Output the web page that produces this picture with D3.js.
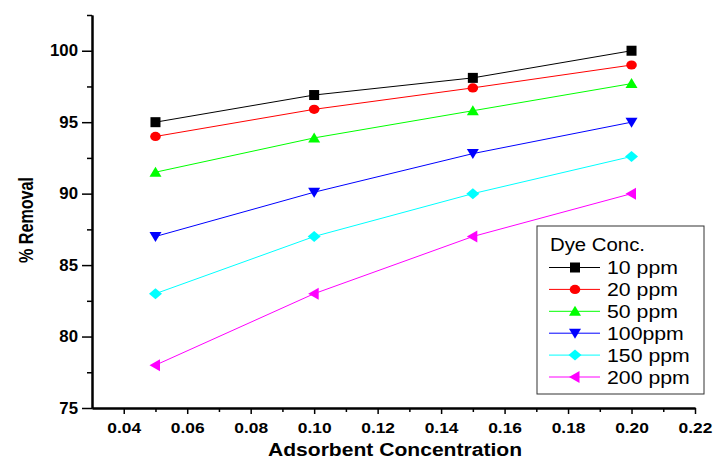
<!DOCTYPE html>
<html>
<head>
<meta charset="utf-8">
<script src="https://cdn.jsdelivr.net/npm/d3@7"></script>
<style>
  body { margin: 0; background: #fff; }
  text { font-family: "Liberation Sans", Arial, sans-serif; }
</style>
</head>
<body>
<div id="my_viz"></div>
<script>
var width = 715,
    height = 461;

// data
var doses = [0.05, 0.10, 0.15, 0.20];
var seriesNames = ["10 ppm", "20 ppm", "50 ppm", "100ppm", "150 ppm", "200 ppm"];
var removal10 = [95.0, 96.9, 98.1, 100.0];
var removal20 = [94.0, 95.9, 97.4, 99.0];
var removal50 = [91.5, 93.9, 95.8, 97.7];
var removal100 = [87.0, 90.1, 92.8, 95.0];
var removal150 = [83.0, 87.0, 90.0, 92.6];
var removal200 = [78.0, 83.0, 87.0, 90.0];
var xTicks = [0.04, 0.06, 0.08, 0.10, 0.12, 0.14, 0.16, 0.18, 0.20, 0.22];
var yTicks = [75, 80, 85, 90, 95, 100];

var allSeries = [removal10, removal20, removal50, removal100, removal150, removal200];
var colors = ["#000000", "#ff0000", "#00ff00", "#0000ff", "#00ffff", "#ff00ff"];
var shapes = ["square", "circle", "up", "down", "diamond", "left"];

var svg = d3.select("#my_viz")
    .append("svg")
    .attr("width", width)
    .attr("height", height)
    .style("background", "white");

var x = d3.scaleLinear().domain([0.03, 0.22]).range([92, 695]);
var y = d3.scaleLinear().domain([75, 102.5]).range([408, 15]);

// axes
var xAxis = svg.append("g").attr("transform", "translate(0,408)")
    .call(d3.axisBottom(x).tickValues(xTicks).tickFormat(d3.format(".2f")).tickSize(6).tickSizeOuter(0));
var xMinor = svg.append("g").attr("transform", "translate(0,408)")
    .call(d3.axisBottom(x).tickValues(d3.range(0.05, 0.215, 0.02)).tickFormat("").tickSize(4).tickSizeOuter(0));
var yAxis = svg.append("g").attr("transform", "translate(92,0)")
    .call(d3.axisLeft(y).tickValues(yTicks).tickSize(10).tickSizeOuter(0).tickPadding(4));
var yMinor = svg.append("g").attr("transform", "translate(92,0)")
    .call(d3.axisLeft(y).tickValues([77.5, 82.5, 87.5, 92.5, 97.5, 102.5]).tickFormat("").tickSize(5).tickSizeOuter(0));

svg.selectAll(".domain").attr("stroke", "#000").attr("stroke-width", 2);
svg.selectAll(".tick line").attr("stroke", "#000").attr("stroke-width", 1.5);
xAxis.selectAll("text").attr("font-size", 15.5).attr("font-weight", "bold")
    .attr("font-family", "Liberation Sans, Arial").attr("fill", "#000")
    .attr("y", 10).attr("dy", "0.95em")
    .attr("transform", "scale(1.12,1)");
yAxis.selectAll("text").attr("font-size", 16).attr("font-weight", "bold")
    .attr("font-family", "Liberation Sans, Arial").attr("fill", "#000")
    .attr("x", -14 / 1.05)
    .attr("transform", "scale(1.05,1)");

svg.append("text")
    .attr("transform", "translate(395,456) scale(1.14,1)")
    .attr("text-anchor", "middle")
    .attr("font-size", 18.5).attr("font-weight", "bold")
    .text("Adsorbent Concentration");

svg.append("text")
    .attr("transform", "translate(33,220) rotate(-90)")
    .attr("text-anchor", "middle")
    .attr("font-size", 20).attr("font-weight", "bold")
    .attr("textLength", 86)
    .attr("lengthAdjust", "spacingAndGlyphs")
    .text("% Removal");

// markers
function marker(sel, shape) {
    if (shape === "square") {
        sel.append("rect").attr("x", -5).attr("y", -5).attr("width", 10).attr("height", 10);
    } else if (shape === "circle") {
        sel.append("ellipse").attr("rx", 5.3).attr("ry", 4.6);
    } else if (shape === "up") {
        sel.append("path").attr("d", "M0,-5.5L6,4.5L-6,4.5Z");
    } else if (shape === "down") {
        sel.append("path").attr("d", "M0,5.5L6,-4.5L-6,-4.5Z");
    } else if (shape === "diamond") {
        sel.append("path").attr("d", "M0,-5.5L6.5,0L0,5.5L-6.5,0Z");
    } else if (shape === "left") {
        sel.append("path").attr("d", "M-6,0L4.5,-6L4.5,6Z");
    }
}

var line = d3.line()
    .x(function (d, i) { return x(doses[i]); })
    .y(function (d) { return y(d); });

var groups = svg.append("g").selectAll("g.series").data(allSeries).enter()
    .append("g").attr("class", "series");

groups.append("path")
    .attr("d", function (d) { return line(d); })
    .attr("fill", "none")
    .attr("stroke", function (d, i) { return colors[i]; })
    .attr("stroke-width", 1);

groups.each(function (d, i) {
    var g = d3.select(this);
    d.forEach(function (v, j) {
        var m = g.append("g")
            .attr("transform", "translate(" + x(doses[j]) + "," + y(v) + ")")
            .attr("fill", colors[i]);
        marker(m, shapes[i]);
    });
});

// legend
var legend = svg.append("g").attr("transform", "translate(537,226)");
legend.append("rect")
    .attr("width", 167).attr("height", 168)
    .attr("fill", "white").attr("stroke", "#333").attr("stroke-width", 1);
legend.append("text")
    .attr("transform", "translate(13,25) scale(1.1,1)")
    .attr("font-size", 18.5)
    .text("Dye Conc.");

var rows = legend.selectAll(".legends").data(seriesNames).enter()
    .append("g")
    .classed("legends", true)
    .attr("transform", function (d, i) { return "translate(0," + (41.5 + i * 21.9) + ")"; });

rows.append("line")
    .attr("x1", 12).attr("x2", 63)
    .attr("stroke", function (d, i) { return colors[i]; })
    .attr("stroke-width", 1);

rows.each(function (d, i) {
    var m = d3.select(this).append("g")
        .attr("transform", "translate(38,0)")
        .attr("fill", colors[i]);
    marker(m, shapes[i]);
});

rows.append("text")
    .text(function (d) { return d; })
    .attr("transform", "translate(70,6.5) scale(1.15,1)")
    .attr("font-size", 18.5);
</script>
</body>
</html>
